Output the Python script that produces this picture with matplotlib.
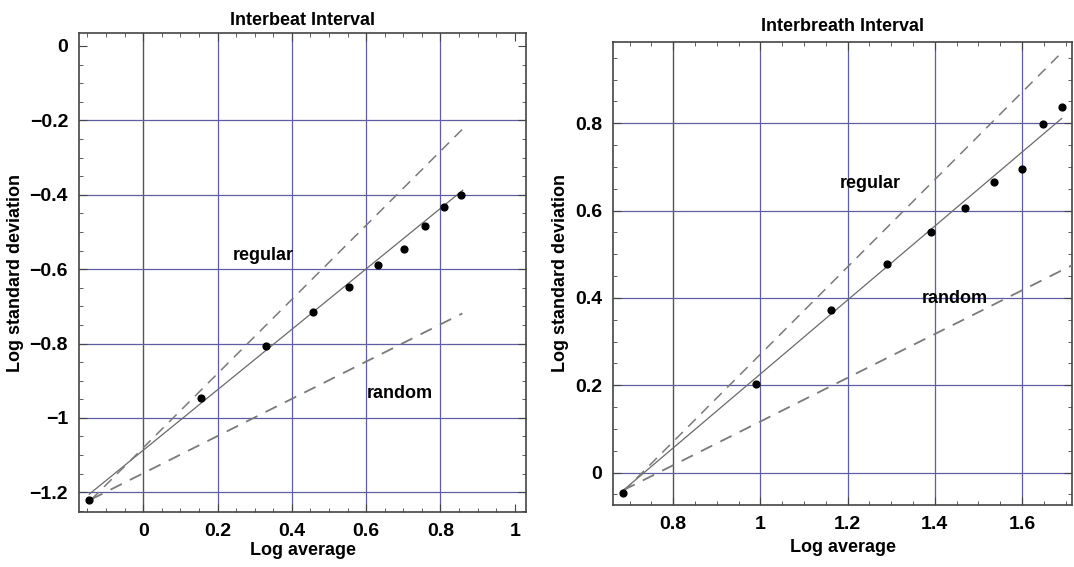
import matplotlib
matplotlib.use("Agg")
import matplotlib.pyplot as plt
from matplotlib.ticker import MultipleLocator, FuncFormatter

plt.rcParams['font.family'] = ['Liberation Sans', 'DejaVu Sans']
plt.rcParams['font.weight'] = 'bold'

# ---------------- data: Interbeat Interval ----------------
beat_x = [-0.145, 0.156, 0.331, 0.457, 0.554, 0.633, 0.702, 0.759, 0.809, 0.855]
beat_y = [-1.222, -0.947, -0.808, -0.715, -0.648, -0.588, -0.545, -0.485, -0.432, -0.402]
beat_fit_x = [-0.145, 0.86]
beat_fit_y = [-1.205, -0.388]
beat_regular_x = [-0.14, 0.861]
beat_regular_y = [-1.220, -0.222]
beat_random_x = [-0.14, 0.859]
beat_random_y = [-1.219, -0.719]
beat_xgrid = [0.0, 0.2, 0.4, 0.6, 0.8]
beat_ygrid = [-1.2, -1.0, -0.8, -0.6, -0.4, -0.2]

# ---------------- data: Interbreath Interval ----------------
breath_x = [0.686, 0.990, 1.163, 1.290, 1.391, 1.469, 1.536, 1.600, 1.648, 1.693]
breath_y = [-0.046, 0.202, 0.373, 0.477, 0.551, 0.606, 0.666, 0.695, 0.798, 0.838]
breath_fit_x = [0.686, 1.691]
breath_fit_y = [-0.040, 0.811]
breath_regular_x = [0.686, 1.691]
breath_regular_y = [-0.043, 0.962]
breath_random_x = [0.686, 1.715]
breath_random_y = [-0.040, 0.475]
breath_xgrid = [0.8, 1.0, 1.2, 1.4, 1.6]
breath_ygrid = [0.0, 0.2, 0.4, 0.6, 0.8]

GRID = '#5e5ea2'
DARK = '#555555'
LINE = '#6a6a6a'
DASH = '#7a7a7a'


def fmt(v, pos):
    if abs(v) < 1e-9:
        return '0'
    s = ('%.1f' % v)
    if s.endswith('.0'):
        s = s[:-2]
    return s.replace('-', '\u2212')


def style(ax, xmaj, ymaj, xlim, ylim, vline):
    ax.set_xlim(*xlim)
    ax.set_ylim(*ylim)
    for v in xmaj:
        if abs(v - vline) < 1e-9:
            ax.axvline(v, color=DARK, lw=1.0, zorder=1)
        else:
            ax.axvline(v, color=GRID, lw=0.9, zorder=1)
    for v in ymaj:
        ax.axhline(v, color=GRID, lw=0.9, zorder=1)
    ax.xaxis.set_major_locator(MultipleLocator(0.2))
    ax.yaxis.set_major_locator(MultipleLocator(0.2))
    ax.xaxis.set_minor_locator(MultipleLocator(0.05))
    ax.yaxis.set_minor_locator(MultipleLocator(0.05))
    ax.xaxis.set_major_formatter(FuncFormatter(fmt))
    ax.yaxis.set_major_formatter(FuncFormatter(fmt))
    ax.tick_params(which='both', direction='in', top=True, right=True,
                   color='#444444', labelsize=14, pad=8)
    ax.tick_params(which='major', length=6, width=0.8)
    ax.tick_params(which='minor', length=3, width=0.6)
    for lab in ax.get_xticklabels() + ax.get_yticklabels():
        lab.set_fontweight('bold')
    for sp in ax.spines.values():
        sp.set_color('#444444')
        sp.set_linewidth(1.2)


fig = plt.figure(figsize=(10.74, 5.67), dpi=100)

# Left panel
ax1 = fig.add_axes([0.0738, 0.097, 0.4159, 0.8443])
style(ax1, beat_xgrid, beat_ygrid, (-0.172, 1.030), (-1.253, 0.034), 0.0)
ax1.plot(beat_fit_x, beat_fit_y, color=LINE, lw=0.9, zorder=3)
ax1.plot(beat_regular_x, beat_regular_y, color=DASH, lw=1.1, dashes=(7, 5), zorder=3)
ax1.plot(beat_random_x, beat_random_y, color=DASH, lw=1.3, dashes=(7, 5), zorder=3)
ax1.scatter(beat_x, beat_y, s=24, color='black', zorder=4)
ax1.text(0.322, -0.563, 'regular', fontsize=13, fontweight='bold', ha='center', va='center')
ax1.text(0.690, -0.934, 'random', fontsize=13, fontweight='bold', ha='center', va='center')
ax1.set_title('Interbeat Interval', fontsize=13, fontweight='bold', pad=6)
ax1.set_xlabel('Log average', fontsize=13, fontweight='bold', labelpad=1)
ax1.set_ylabel('Log standard deviation', fontsize=13, fontweight='bold', labelpad=4)

# Right panel
ax2 = fig.add_axes([0.571, 0.1094, 0.4271, 0.8171])
style(ax2, breath_xgrid, breath_ygrid, (0.6626, 1.7147), (-0.074, 0.987), 0.8)
ax2.plot(breath_fit_x, breath_fit_y, color=LINE, lw=0.9, zorder=3)
ax2.plot(breath_regular_x, breath_regular_y, color=DASH, lw=1.1, dashes=(7, 5), zorder=3)
ax2.plot(breath_random_x, breath_random_y, color=DASH, lw=1.3, dashes=(7, 5), zorder=3)
ax2.scatter(breath_x, breath_y, s=24, color='black', zorder=4)
ax2.text(1.251, 0.663, 'regular', fontsize=13, fontweight='bold', ha='center', va='center')
ax2.text(1.447, 0.399, 'random', fontsize=13, fontweight='bold', ha='center', va='center')
ax2.set_title('Interbreath Interval', fontsize=13, fontweight='bold', pad=8)
ax2.set_xlabel('Log average', fontsize=13, fontweight='bold', labelpad=4)
ax2.set_ylabel('Log standard deviation', fontsize=13, fontweight='bold', labelpad=4)

fig.savefig('out.png', dpi=100)
